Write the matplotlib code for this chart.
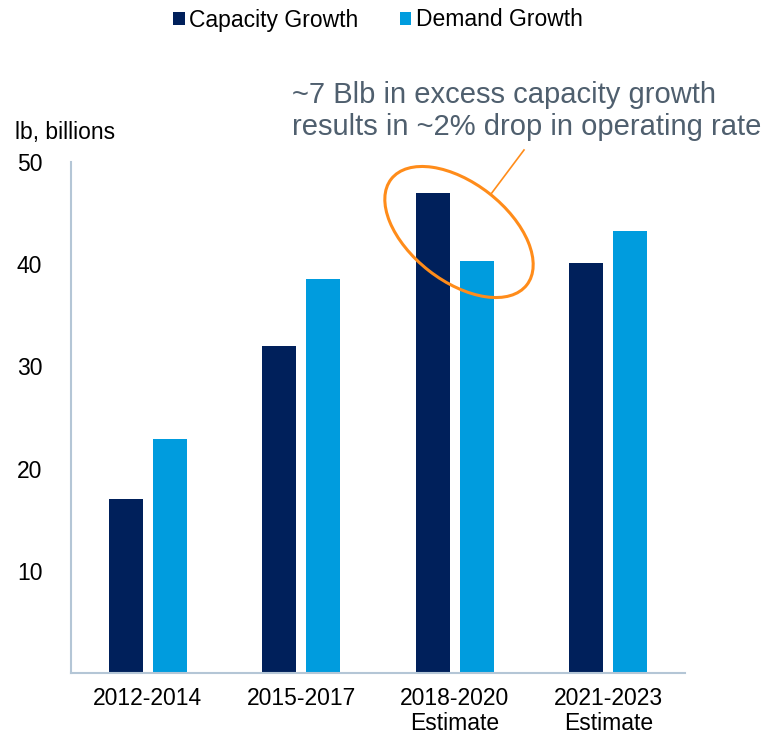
import matplotlib
matplotlib.use("Agg")
import matplotlib.pyplot as plt
from matplotlib.patches import Ellipse
import numpy as np

# 数据
periods = ['2012-2014', '2015-2017', '2018-2020\nEstimate', '2021-2023\nEstimate']
capacity_growth = [17, 32, 47, 40.1]
demand_growth = [22.9, 38.5, 40.3, 43.2]
yticks = [10, 20, 30, 40, 50]
note = '~7 Blb in excess capacity growth\nresults in ~2% drop in operating rate'

navy = '#00205B'
blue = '#009CDE'
orange = '#FF8C1A'
fs = 16.5

plt.rcParams['font.family'] = ['Liberation Sans', 'DejaVu Sans']

fig = plt.figure(figsize=(7.67, 7.36), dpi=100)
ax = fig.add_axes([0.0926, 0.0856, 0.8004, 0.6944])

x = np.arange(len(periods))
w = 0.22
off = 0.143
ax.bar(x - off, capacity_growth, w, color=navy, label='Capacity Growth')
ax.bar(x + off, demand_growth, w, color=blue, label='Demand Growth')

ax.set_xlim(-0.5, len(periods) - 0.5)
ax.set_ylim(0, 50)
ax.set_yticks(yticks)
ax.set_xticks(x)
ax.set_xticklabels(periods, fontsize=fs, linespacing=1.12)
ax.tick_params(axis='both', length=0, labelsize=fs, colors='black')
ax.tick_params(axis='y', pad=39)
ax.tick_params(axis='x', pad=10)
for lab in ax.get_yticklabels():
    lab.set_horizontalalignment('left')

for s in ['top', 'right']:
    ax.spines[s].set_visible(False)
for s in ['left', 'bottom']:
    ax.spines[s].set_color('#B4C6D6')
    ax.spines[s].set_linewidth(1.5)

fig.text(15 / 767, 1 - 132 / 736, 'lb, billions', fontsize=fs, va='center', ha='left')

# 图例
leg = fig.legend(loc='center', bbox_to_anchor=(0.493, 1 - 20 / 736), ncol=2, frameon=False,
                 fontsize=fs, handlelength=0.5, handleheight=0.5, handletextpad=0.2,
                 columnspacing=1.8)

# 注释文字
fig.text(292 / 767, 1 - 111 / 736, note, fontsize=21, color='#4F5F6E',
         va='center', ha='left', linespacing=1.15)

# 椭圆和引线（像素坐标 -> 英寸）
def px(xp, yp):
    return (xp / 100.0, (736 - yp) / 100.0)

ell = Ellipse(px(459, 232), width=1.72, height=0.98, angle=-38,
              transform=fig.dpi_scale_trans, fill=False, edgecolor=orange, linewidth=2.2)
fig.add_artist(ell)
x0, y0 = px(491, 194)
x1, y1 = px(524, 150)
fig.add_artist(plt.Line2D([x0, x1], [y0, y1], transform=fig.dpi_scale_trans,
                          color=orange, linewidth=1.2))

plt.savefig('out.png', dpi=100)
